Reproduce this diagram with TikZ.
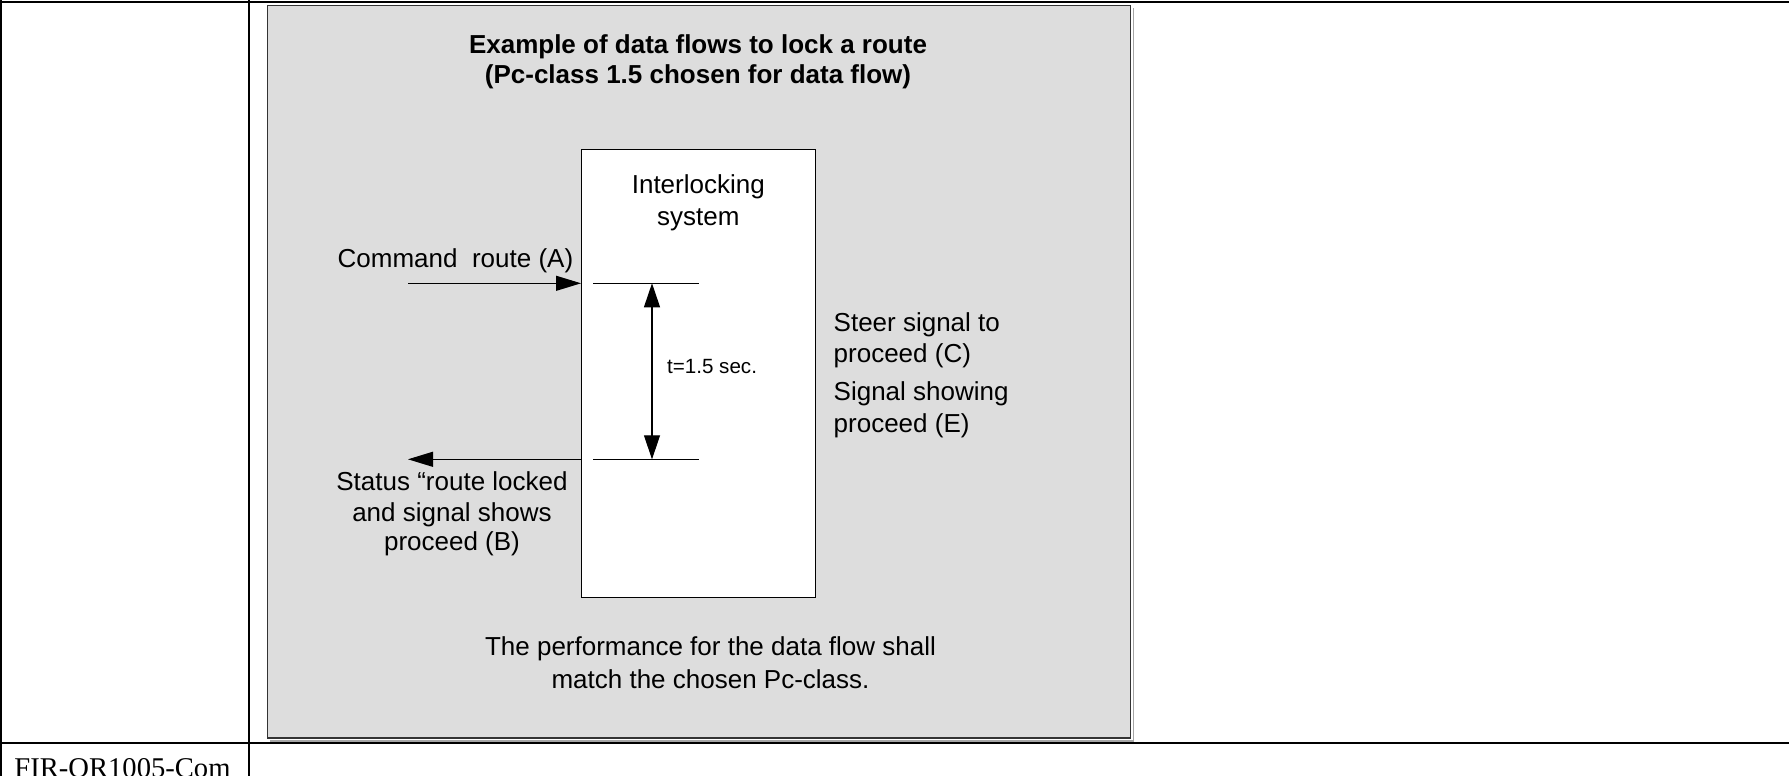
\documentclass[tikz,border=0pt]{standalone}
\usepackage{fontspec}
\setmainfont{Liberation Sans}
\newfontfamily\tablefont{Liberation Serif}
\usetikzlibrary{arrows.meta}

\begin{document}
\begin{tikzpicture}[x=0.5pt,y=-0.5pt,
  rule/.style={line width=1pt, black},
  panel/.style={draw=black!80, line width=0.75pt, fill=black!13.5, inner sep=0pt},
  sysbox/.style={draw=black, line width=0.7pt, fill=white, inner sep=0pt},
  lbl/.style={inner sep=0pt, font=\fontsize{13}{15}\selectfont},
  heading/.style={inner sep=0pt, font=\fontsize{13}{15}\selectfont\bfseries},
  small/.style={inner sep=0pt, font=\fontsize{10.3}{12}\selectfont},
  flow/.style={line width=0.55pt, -{Triangle[length=12.5pt,width=7.5pt]}},
  span/.style={line width=0.55pt, {Triangle[length=12pt,width=8pt]}-{Triangle[length=12pt,width=8pt]}},
  tick/.style={line width=0.55pt}]

\useasboundingbox (0,0) rectangle (1789,776);

% table frame
\draw[rule] (0,2) -- (1789,2);
\draw[rule] (1,0) -- (1,776);
\draw[rule] (249,0) -- (249,776);
\draw[rule] (0,743) -- (1789,743);
\node[anchor=base west, inner sep=0pt, font=\tablefont\fontsize{14.3}{16}\selectfont]
  (docref) at (14,777) {FIR-QR1005-Com};

% grey panel with a light shadow edge
\node[panel, minimum width=431.5pt, minimum height=366.25pt] (panel) at (699,371.75) {};
\draw[black!35, line width=0.6pt]
  ([shift={(2.2,3)}]panel.north east) -- ([shift={(2.2,2.2)}]panel.south east)
  -- ([shift={(3,2.2)}]panel.south west);

% heading
\node[heading, anchor=base] (title1) at (698,53.3) {Example of data flows to lock a route};
\node[heading, anchor=base] (title2) at (698,83.3) {(Pc-class 1.5 chosen for data flow)};

% interlocking system box
\node[sysbox, minimum width=116.9pt, minimum height=224pt] (ils) at (698.6,373.3) {};
\node[lbl, anchor=base] (ilsname1) at (698.3,193) {Interlocking};
\node[lbl, anchor=base] (ilsname2) at (698.3,225) {system};

% incoming command
\node[lbl, anchor=base west] (cmdtext) at (337.3,267.7) {Command~~route (A)};
\coordinate (cmdsrc) at (408,283.3);
\draw[flow] (cmdsrc) -- (cmdsrc -| ils.west);

% outgoing status
\coordinate (statdst) at (408,459.3);
\draw[flow] (statdst -| ils.west) -- (statdst);
\node[lbl, anchor=base] (stat1) at (452,490) {Status “route locked};
\node[lbl, anchor=base] (stat2) at (452,521) {and signal shows};
\node[lbl, anchor=base] (stat3) at (452,550) {proceed (B)};

% timing marks
\coordinate (t0l) at (593.3,283.3);
\coordinate (t0r) at (699,283.3);
\coordinate (t1l) at (593.3,459.3);
\coordinate (t1r) at (699,459.3);
\draw[tick] (t0l) -- (t0r);
\draw[tick] (t1l) -- (t1r);
\coordinate (t0m) at (652,283.3);
\coordinate (t1m) at (652,459.3);
\draw[span] (t0m) -- (t1m);
\node[small, anchor=base west] (tval) at (666.7,373.3) {t=1.5 sec.};

% signal side
\node[lbl, anchor=base west] (steer1) at (833.3,331.7) {Steer signal to};
\node[lbl, anchor=base west] (steer2) at (833.3,362.3) {proceed (C)};
\node[lbl, anchor=base west] (show1) at (833.3,400.5) {Signal showing};
\node[lbl, anchor=base west] (show2) at (833.3,432) {proceed (E)};

% footnote in panel
\node[lbl, anchor=base] (note1) at (710.5,655) {The performance for the data flow shall};
\node[lbl, anchor=base] (note2) at (710.5,688.3) {match the chosen Pc-class.};

\end{tikzpicture}
\end{document}
